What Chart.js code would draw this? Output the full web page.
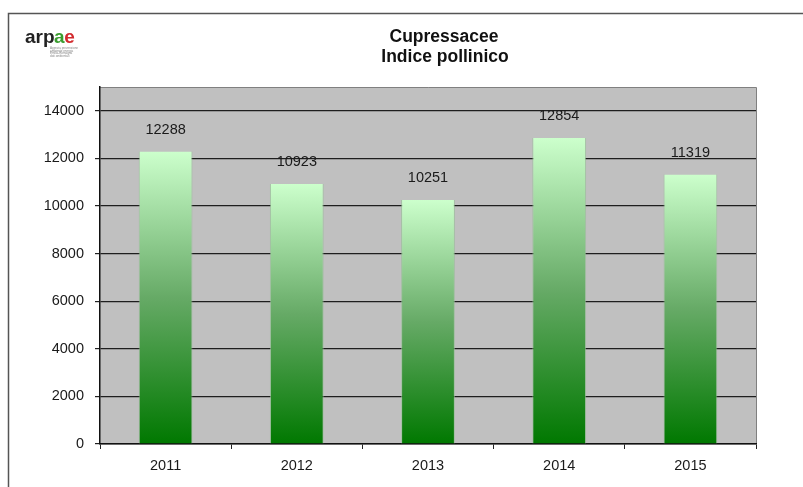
<!DOCTYPE html>
<html>
<head>
<meta charset="utf-8">
<script src="https://cdn.jsdelivr.net/npm/chart.js@4/dist/chart.umd.min.js"></script>
<style>
    html, body { margin: 0; padding: 0; background: #fff; }
    #wrap { width: 803px; height: 487px; }
</style>
</head>
<body>
<div id="wrap"><canvas id="pollen-chart" width="803" height="487"></canvas></div>
<script>
// data
const years = ['2011', '2012', '2013', '2014', '2015'];
const pollenIndex = [12288, 10923, 10251, 12854, 11319];
const yTickValues = [0, 2000, 4000, 6000, 8000, 10000, 12000, 14000];
const yMax = 15000;
const titleLines = ['Cupressacee', 'Indice pollinico'];

const FONT = "'Liberation Sans', Arial, sans-serif";

// white page, outer frame, grey plot area
const backdrop = {
    id: 'backdrop',
    beforeDraw(chart) {
        const { ctx, chartArea: a } = chart;
        ctx.save();
        ctx.fillStyle = '#fff';
        ctx.fillRect(0, 0, chart.width, chart.height);

        ctx.strokeStyle = '#555';
        ctx.lineWidth = 1.5;
        ctx.strokeRect(8.5, 13.5, 1000, 1000);

        ctx.fillStyle = '#C0C0C0';
        ctx.fillRect(a.left, a.top, a.right - a.left, a.bottom - a.top);

        ctx.strokeStyle = '#808080';
        ctx.lineWidth = 1;
        ctx.beginPath();
        ctx.moveTo(a.left, a.top + 0.5);
        ctx.lineTo(a.right + 0.5, a.top + 0.5);
        ctx.lineTo(a.right + 0.5, a.bottom);
        ctx.stroke();
        ctx.restore();
    }
};

// value labels above the bars
const valueLabels = {
    id: 'valueLabels',
    afterDatasetsDraw(chart) {
        const { ctx } = chart;
        const meta = chart.getDatasetMeta(0);
        ctx.save();
        ctx.font = `14.5px ${FONT}`;
        ctx.fillStyle = '#1a1a1a';
        ctx.textAlign = 'center';
        ctx.textBaseline = 'middle';
        meta.data.forEach((bar, i) => {
            ctx.fillText(String(pollenIndex[i]), bar.x, bar.y - 22);
        });
        ctx.restore();
    }
};

// title and arpae logo
const heading = {
    id: 'heading',
    afterDraw(chart) {
        const { ctx } = chart;
        ctx.save();
        ctx.fillStyle = '#111';
        ctx.font = `bold 17.5px ${FONT}`;
        ctx.textAlign = 'center';
        ctx.textBaseline = 'alphabetic';
        ctx.fillText(titleLines[0], 444, 42);
        ctx.fillText(titleLines[1], 445, 62);

        // logo
        ctx.textAlign = 'left';
        ctx.font = `bold 19px ${FONT}`;
        let x = 25;
        const parts = [['arp', '#222'], ['a', '#3a9d2f'], ['e', '#d22a2e']];
        parts.forEach(([txt, col]) => {
            ctx.fillStyle = col;
            ctx.fillText(txt, x, 43);
            x += ctx.measureText(txt).width - 0.5;
        });
        ctx.fillStyle = '#888';
        ctx.font = `3px ${FONT}`;
        ['Agenzia prevenzione', 'ambiente energia', 'Emilia-Romagna', 'dati ambientali'].forEach((s, i) => {
            ctx.fillText(s, 50, 49 + i * 2.6);
        });
        ctx.restore();
    }
};

function barGradient(context) {
    const chart = context.chart;
    if (!chart.chartArea || context.type !== 'data') return '#66bb66';
    const y = chart.scales.y;
    const top = y.getPixelForValue(context.raw);
    const bottom = y.getPixelForValue(0);
    const g = chart.ctx.createLinearGradient(0, top, 0, bottom);
    g.addColorStop(0, '#CCFFCC');
    g.addColorStop(0.5, '#66aa66');
    g.addColorStop(1, '#007800');
    return g;
}

new Chart(document.getElementById('pollen-chart'), {
    type: 'bar',
    data: {
        labels: years,
        datasets: [{
            data: pollenIndex,
            backgroundColor: barGradient,
            borderColor: 'rgba(150, 190, 150, 0.7)',
            borderWidth: { left: 1, right: 1, top: 0, bottom: 0 },
            borderSkipped: false,
            barPercentage: 0.41,
            categoryPercentage: 1
        }]
    },
    options: {
        responsive: false,
        animation: false,
        layout: {
            padding: { left: 8, top: 87, right: 47, bottom: 0 }
        },
        plugins: {
            legend: { display: false },
            title: { display: false },
            tooltip: { enabled: false }
        },
        scales: {
            x: {
                grid: {
                    offset: true,
                    drawOnChartArea: false,
                    drawTicks: true,
                    tickLength: 5,
                    tickColor: '#222'
                },
                border: { color: '#111', width: 1.5 },
                ticks: {
                    color: '#1a1a1a',
                    font: { family: FONT, size: 14.5 },
                    padding: 8
                },
                afterFit(scale) { scale.height = 43; }
            },
            y: {
                min: 0,
                max: yMax,
                afterBuildTicks(axis) {
                    axis.ticks = yTickValues.map(v => ({ value: v }));
                },
                grid: {
                    color: '#1e1e1e',
                    lineWidth: 1.2,
                    drawTicks: true,
                    tickLength: 5,
                    tickColor: '#222'
                },
                border: { color: '#111', width: 1.5 },
                ticks: {
                    color: '#1a1a1a',
                    font: { family: FONT, size: 14.5 },
                    padding: 11,
                    callback: value => String(value)
                },
                afterFit(scale) { scale.width = 92; }
            }
        }
    },
    plugins: [backdrop, valueLabels, heading]
});
</script>
</body>
</html>
